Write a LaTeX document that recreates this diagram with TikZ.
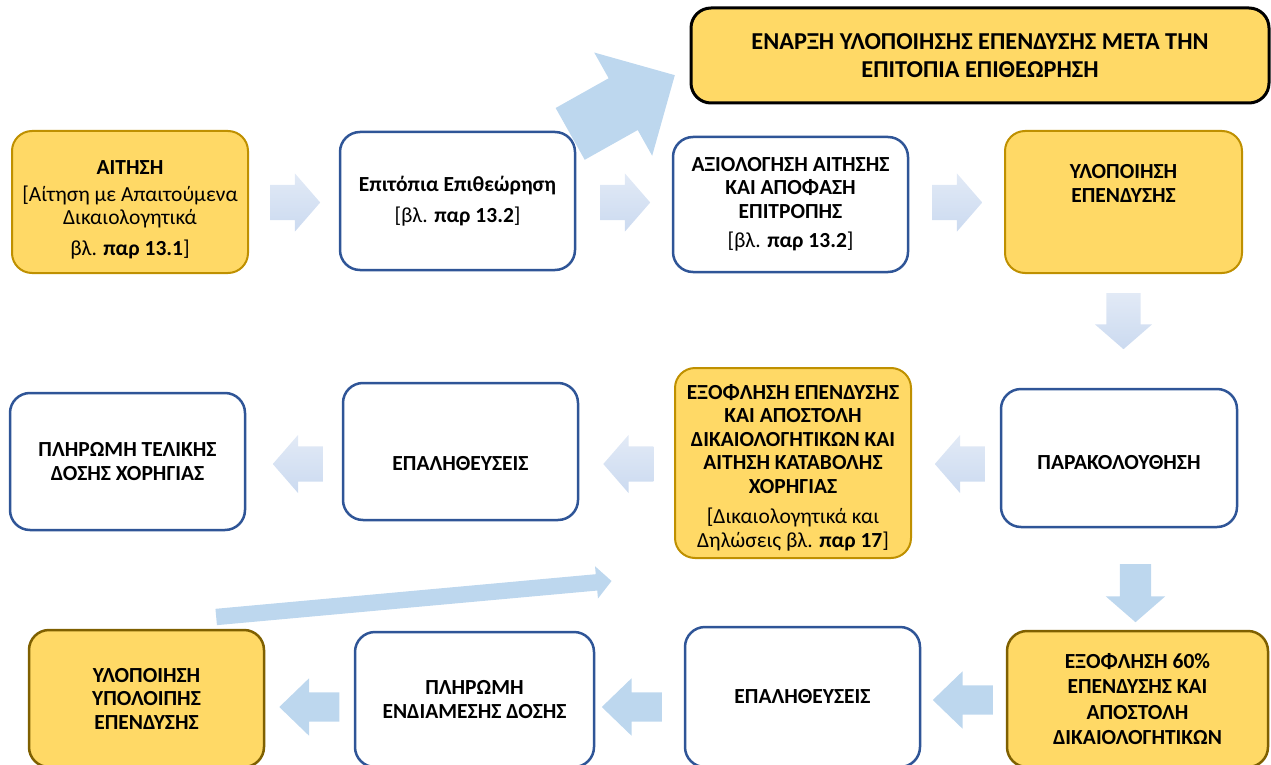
\documentclass[tikz,border=0pt]{standalone}
\usepackage{fontspec}
\setmainfont{Carlito}
\usetikzlibrary{shapes.arrows}
\definecolor{boxyellow}{HTML}{FFD966}
\definecolor{boxgold}{HTML}{BF9000}
\definecolor{boxbrown}{HTML}{7F6000}
\definecolor{boxblue}{HTML}{2F5597}
\definecolor{arrowblue}{HTML}{BDD7EE}
\definecolor{arrowpale}{HTML}{E2EAF6}
\definecolor{arrowdark}{HTML}{CBDAF0}
\begin{document}
\begin{tikzpicture}[x=1pt,y=-1pt,
	box/.style={rectangle,rounded corners=20pt,align=center,inner sep=2pt,font=\fontsize{21.5}{23.5}\selectfont\bfseries},
	bluebox/.style={box,draw=boxblue,line width=2.5pt,fill=white},
	goldbox/.style={box,draw=boxgold,line width=2pt,fill=boxyellow},
	brownbox/.style={box,draw=boxbrown,line width=2.5pt,fill=boxyellow},
	blockarrow/.style={single arrow,anchor=tail,inner xsep=0pt,inner ysep=17.5pt,single arrow head extend=11.5pt,single arrow tip angle=98,minimum height=50pt},
	fadearrow/.style={blockarrow,top color=arrowpale,bottom color=arrowdark},
	fullarrow/.style={blockarrow,fill=arrowblue}]
	\useasboundingbox (0,0) rectangle (1271,765);
	\node[goldbox,minimum width=236pt,minimum height=142pt] (aitisi) at (130,202) {\rule{0pt}{30pt}ΑΙΤΗΣΗ\\[3pt]\mdseries[Αίτηση με Απαιτούμενα\\\mdseries Δικαιολογητικά\\[7pt]\mdseries βλ. \textbf{παρ 13.1}]};%Antrag
	\node[bluebox,minimum width=235pt,minimum height=138pt] (epitopia) at (457.5,201) {Επιτόπια Επιθεώρηση\\[7pt]\mdseries[βλ. \textbf{παρ 13.2}]};%Vor-Ort-Kontrolle
	\node[bluebox,minimum width=235pt,minimum height=135pt] (axiologisi) at (790.5,204.5) {ΑΞΙΟΛΟΓΗΣΗ ΑΙΤΗΣΗΣ\\ΚΑΙ ΑΠΟΦΑΣΗ\\ΕΠΙΤΡΟΠΗΣ\\[6pt]\mdseries[βλ. \textbf{παρ 13.2}]};%Bewertung
	\node[goldbox,minimum width=237pt,minimum height=142pt] (ylopoiisi) at (1123.5,202) {ΥΛΟΠΟΙΗΣΗ\\ΕΠΕΝΔΥΣΗΣ\rule[-37pt]{0pt}{37pt}};%Umsetzung
	\node[box,draw=black,line width=3pt,fill=boxyellow,minimum width=578pt,minimum height=95pt,font=\fontsize{24.3}{28}\selectfont\bfseries] (enarxi) at (980,55.5) {ΕΝΑΡΞΗ ΥΛΟΠΟΙΗΣΗΣ ΕΠΕΝΔΥΣΗΣ ΜΕΤΑ ΤΗΝ\\ΕΠΙΤΟΠΙΑ ΕΠΙΘΕΩΡΗΣΗ};%Beginn
	\node[bluebox,minimum width=235pt,minimum height=137pt] (telikipliromi) at (127.5,461.5) {ΠΛΗΡΩΜΗ ΤΕΛΙΚΗΣ\\ΔΟΣΗΣ ΧΟΡΗΓΙΑΣ};%Schlusszahlung
	\node[bluebox,minimum width=235pt,minimum height=137pt] (epalithefseis) at (460.5,451.5) {\rule{0pt}{38pt}ΕΠΑΛΗΘΕΥΣΕΙΣ};%Pruefungen oben
	\node[goldbox,minimum width=236pt,minimum height=190pt] (exoflisi) at (793,463) {\rule{0pt}{24pt}ΕΞΟΦΛΗΣΗ ΕΠΕΝΔΥΣΗΣ\\ΚΑΙ ΑΠΟΣΤΟΛΗ\\ΔΙΚΑΙΟΛΟΓΗΤΙΚΩΝ ΚΑΙ\\ΑΙΤΗΣΗ ΚΑΤΑΒΟΛΗΣ\\ΧΟΡΗΓΙΑΣ\\[7pt]\mdseries[Δικαιολογητικά και\\\mdseries Δηλώσεις βλ. \textbf{παρ 17}]};%Abschluss
	\node[bluebox,minimum width=236pt,minimum height=138pt] (parakolouthisi) at (1119,458) {\rule{0pt}{24pt}ΠΑΡΑΚΟΛΟΥΘΗΣΗ};%Monitoring
	\node[brownbox,minimum width=261pt,minimum height=136pt,font=\fontsize{21.5}{25.5}\selectfont\bfseries] (exoflisi60) at (1137.5,699) {ΕΞΟΦΛΗΣΗ 60\%\\ΕΠΕΝΔΥΣΗΣ ΚΑΙ\\ΑΠΟΣΤΟΛΗ\\ΔΙΚΑΙΟΛΟΓΗΤΙΚΩΝ};%60 Prozent
	\node[bluebox,minimum width=235pt,minimum height=140pt] (epalithefseis2) at (802.5,697) {ΕΠΑΛΗΘΕΥΣΕΙΣ};%Pruefungen unten
	\node[bluebox,minimum width=239pt,minimum height=135pt] (endiamesi) at (474.5,699.5) {ΠΛΗΡΩΜΗ\\ΕΝΔΙΑΜΕΣΗΣ ΔΟΣΗΣ};%Zwischenzahlung
	\node[brownbox,minimum width=235pt,minimum height=137pt] (ypoloipi) at (146.5,698.5) {ΥΛΟΠΟΙΗΣΗ\\ΥΠΟΛΟΙΠΗΣ\\ΕΠΕΝΔΥΣΗΣ};%Rest
	\node[fadearrow] (b1) at (270,202.5) {};%Pfeil oben 1
	\node[fadearrow] (b2) at (600,202.5) {};%Pfeil oben 2
	\node[fadearrow] (b3) at (932,202.5) {};%Pfeil oben 3
	\node[fadearrow,rotate=-90,minimum height=56pt,inner ysep=17pt] (b4) at (1123.5,293) {};%runter 1
	\node[fadearrow,rotate=180] (b5) at (985,464) {};%links Mitte 1
	\node[fadearrow,rotate=180] (b6) at (653.5,464) {};%links Mitte 2
	\node[fadearrow,rotate=180] (b7) at (323,464) {};%links Mitte 3
	\node[fullarrow,rotate=-90,minimum height=58pt,inner ysep=15.5pt,single arrow head extend=14pt] (b8) at (1135.5,564) {};%runter 2
	\node[fullarrow,rotate=180,minimum height=60pt,inner ysep=14.5pt,single arrow head extend=14pt,single arrow tip angle=88] (b9) at (993,700) {};%links unten 1
	\node[fullarrow,rotate=180,minimum height=60pt,inner ysep=14.5pt,single arrow head extend=14pt,single arrow tip angle=88] (b10) at (662,707) {};%links unten 2
	\node[fullarrow,rotate=180,minimum height=60pt,inner ysep=14.5pt,single arrow head extend=14pt,single arrow tip angle=88] (b11) at (339.5,707) {};%links unten 3
	\node[fullarrow,rotate=29.3,minimum height=120pt,inner ysep=29.5pt,single arrow head extend=29.5pt,single arrow tip angle=90] (diag) at (570,134) {};%grosser Pfeil
	\node[fullarrow,rotate=5.2,minimum height=397pt,inner ysep=8pt,single arrow head extend=8pt,single arrow tip angle=94] (lang) at (216,617) {};%langer Pfeil
\end{tikzpicture}
\end{document}
